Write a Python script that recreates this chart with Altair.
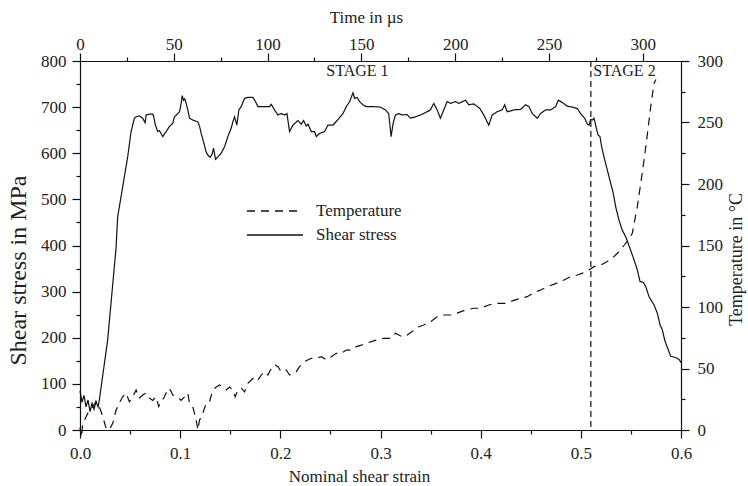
import altair as alt
import pandas as pd

FONT = "Liberation Serif"
TXT = "#222222"
LINE = "#111111"

# Shear stress curve (nominal shear strain, MPa)
stress_strain = [0.000, 0.002, 0.004, 0.006, 0.008, 0.010, 0.012, 0.014, 0.016, 0.018, 0.0193, 0.0276, 0.036,
                 0.0376, 0.0426, 0.0476, 0.051, 0.0543, 0.056, 0.0593, 0.0626, 0.065, 0.066, 0.0693, 0.0726,
                 0.0736, 0.0753, 0.0776, 0.0793, 0.0826, 0.086, 0.0893, 0.0926, 0.0943, 0.0976, 0.0993, 0.101,
                 0.102, 0.1033, 0.1046, 0.106, 0.1076, 0.1093, 0.1126, 0.1176, 0.1193, 0.121, 0.1233, 0.1259,
                 0.1276, 0.1299, 0.1319, 0.1333, 0.1353, 0.1376, 0.1409, 0.1443, 0.1476, 0.1509, 0.1526, 0.1543,
                 0.1566, 0.1586, 0.1609, 0.1643, 0.1676, 0.1726, 0.1752, 0.1776, 0.1859, 0.1892, 0.1909, 0.1942,
                 0.1976, 0.2009, 0.2042, 0.2066, 0.2092, 0.2126, 0.2176, 0.2209, 0.2232, 0.2259, 0.2276, 0.2309,
                 0.2342, 0.2359, 0.2392, 0.2442, 0.2475, 0.2525, 0.2575, 0.2625, 0.2659, 0.2692, 0.2725, 0.2742,
                 0.2765, 0.2792, 0.2825, 0.2859, 0.2932, 0.2999, 0.3049, 0.3082, 0.3106, 0.3126, 0.3149, 0.3182,
                 0.3215, 0.3265, 0.3299, 0.3349, 0.3399, 0.3448, 0.3498, 0.3532, 0.3565, 0.3598, 0.3632, 0.3665,
                 0.3698, 0.3748, 0.3782, 0.3848, 0.3882, 0.3932, 0.3992, 0.4031, 0.4081, 0.4115, 0.4165, 0.4215,
                 0.4239, 0.4265, 0.4332, 0.4398, 0.4448, 0.4482, 0.4515, 0.4565, 0.4598, 0.4648, 0.4698, 0.4748,
                 0.4775, 0.4815, 0.4865, 0.4915, 0.4965, 0.4998, 0.5038, 0.5065, 0.5081, 0.5098, 0.5115, 0.5131,
                 0.5148, 0.5171, 0.5191, 0.5208, 0.5231, 0.5264, 0.5298, 0.5324, 0.5348, 0.5381, 0.5414, 0.5448,
                 0.5497, 0.5531, 0.5564, 0.5591, 0.5624, 0.5648, 0.5681, 0.5731, 0.5764, 0.5791, 0.5814, 0.5837,
                 0.5864, 0.5897, 0.5947, 0.5981, 0.600]
stress_mpa = [85, 60, 75, 50, 65, 40, 58, 45, 62, 50, 65, 195, 395,
              462, 527, 592, 647, 676, 679, 681, 676, 666, 683, 685, 685,
              679, 661, 647, 649, 636, 647, 658, 665, 679, 686, 690, 708,
              725, 715, 718, 708, 694, 676, 672, 668, 659, 643, 625, 603,
              596, 591, 598, 611, 587, 592, 600, 614, 636, 654, 668, 679,
              661, 694, 701, 719, 721, 721, 712, 701, 701, 701, 706, 694,
              683, 686, 683, 686, 647, 661, 671, 663, 671, 659, 663, 647,
              647, 636, 643, 647, 661, 661, 673, 686, 701, 712, 731, 719,
              721, 712, 705, 701, 701, 700, 694, 686, 636, 665, 683, 686,
              683, 684, 676, 679, 683, 688, 694, 708, 694, 676, 694, 712,
              708, 712, 708, 715, 705, 707, 697, 683, 661, 683, 690, 694,
              705, 690, 694, 695, 705, 701, 686, 676, 686, 694, 694, 701,
              715, 710, 702, 700, 697, 686, 676, 663, 661, 673, 672, 676,
              661, 640, 636, 614, 592, 564, 535, 513, 484, 455, 433, 419,
              390, 369, 347, 322, 320, 311, 289, 271, 253, 228, 217, 195,
              179, 160, 157, 153, 146]

# Temperature curve (nominal shear strain, deg C)
temp_strain = [0.0000, 0.0015, 0.0027, 0.0077, 0.0127, 0.016, 0.0193, 0.0227, 0.026, 0.029, 0.0327, 0.0343,
               0.036, 0.0393, 0.0426, 0.046, 0.0493, 0.0526, 0.056, 0.0593, 0.0626, 0.066, 0.0693, 0.0726,
               0.076, 0.0786, 0.081, 0.0843, 0.086, 0.0893, 0.0926, 0.0976, 0.101, 0.1043, 0.1076, 0.1093,
               0.1126, 0.1143, 0.1166, 0.1176, 0.1193, 0.1226, 0.126, 0.1293, 0.1326, 0.136, 0.1393, 0.1426,
               0.146, 0.1493, 0.1526, 0.155, 0.1576, 0.161, 0.1643, 0.1676, 0.171, 0.1743, 0.1776, 0.181,
               0.1843, 0.1876, 0.191, 0.1943, 0.1976, 0.2009, 0.2059, 0.2092, 0.2126, 0.2159, 0.2192, 0.2242,
               0.2309, 0.2359, 0.2409, 0.2459, 0.2509, 0.2559, 0.2609, 0.2659, 0.2709, 0.2759, 0.2809, 0.2859,
               0.2932, 0.3032, 0.3099, 0.3149, 0.3215, 0.3265, 0.3315, 0.3382, 0.3432, 0.3499, 0.3565, 0.3632,
               0.3698, 0.3765, 0.3848, 0.3932, 0.3998, 0.4081, 0.4148, 0.4249, 0.4315, 0.4398, 0.4465, 0.4531,
               0.4598, 0.4665, 0.4748, 0.4831, 0.4898, 0.4965, 0.5032, 0.5082, 0.5131, 0.5198, 0.5264, 0.5331,
               0.5381, 0.543, 0.548, 0.5514, 0.5564, 0.5598, 0.5631, 0.5665, 0.5698, 0.5731, 0.575]
temp_c = [2, -6, 5, 13.5, 19, 23, 19, 11, 1.4, 0, 5.4, 11,
          16, 22, 27, 30, 23, 27, 32.5, 26, 28.5, 30, 26, 24,
          27, 19, 23, 27, 30, 34, 28.5, 27, 24, 27, 30, 22,
          19, 13.5, 5.4, 0, 8, 13.5, 22, 23, 32.5, 35, 36.6, 35,
          32.5, 35, 32.5, 27, 32.5, 34, 31, 38, 40.6, 43, 40.6, 44.7,
          47.4, 44.7, 50, 53, 51.5, 47.4, 48.8, 44.7, 46, 47.4, 51.5, 55.6,
          58.3, 58.3, 59.6, 57, 59.6, 62.3, 62.3, 65, 65, 67.8, 69, 70.5,
          72.5, 74.5, 74.5, 78.6, 75.9, 77, 80, 84, 85.4, 88, 92, 93.5,
          93.5, 95, 97.6, 99, 99, 101.6, 103, 103, 105, 107, 108.4, 111.7,
          113.8, 116.5, 119, 122, 124.7, 126, 128, 130, 132.8, 134, 137, 141,
          145, 150, 155, 160, 181.6, 200.5, 219.5, 241, 263, 282, 285]

time_domain = [0, 320.4]          # time in microseconds spanned by the strain axis
strain_domain = [0, 0.6]
stage_boundary = [0.51]
stage1_label = {"strain": [0.277], "stress": [767], "text": ["STAGE  1"]}
stage2_label = {"strain": [0.5125], "stress": [767], "text": ["STAGE  2"]}

series_names = ["Temperature", "Shear stress"]

W, H = 601, 369

df_s = pd.DataFrame({"strain": stress_strain, "value": stress_mpa, "series": "Shear stress"})
df_t = pd.DataFrame({"strain": temp_strain, "value": temp_c, "series": "Temperature"})

xs = alt.Scale(domain=strain_domain, nice=False, zero=False)

common_axis = dict(labelFont=FONT, labelFontSize=17, labelColor=TXT, titleFont=FONT,
                   titleColor=TXT, titleFontWeight="normal", labelFlush=False,
                   domainColor=LINE, tickColor=LINE, grid=False, domainWidth=1.2, tickWidth=1.2)

dash = alt.StrokeDash(
    "series:N",
    scale=alt.Scale(domain=series_names, range=[[8, 6], [1, 0]]),
    legend=alt.Legend(title=None, orient="none", legendX=184, legendY=139,
                      symbolType="M-2.8,0H2.8", symbolSize=400, symbolStrokeWidth=1.3,
                      symbolStrokeColor=LINE, labelFont=FONT, labelFontSize=17,
                      labelColor=TXT, labelOffset=30, rowPadding=5),
)

stress_line = alt.Chart(df_s).mark_line(color=LINE, strokeWidth=1.2).encode(
    x=alt.X("strain:Q", scale=xs, title="Nominal shear strain",
            axis=alt.Axis(values=[round(i * 0.05, 2) for i in range(13)],
                          labelExpr="abs(datum.value*10 - round(datum.value*10)) < 1e-6 ? format(datum.value, '.1f') : ''",
                          tickSize={"condition": {"test": "abs(datum.value*10 - round(datum.value*10)) < 1e-6", "value": 8}, "value": 4},
                          labelPadding=7, titlePadding=7, titleX=279, titleFontSize=17, **common_axis)),
    y=alt.Y("value:Q", scale=alt.Scale(domain=[0, 800], nice=False), title="Shear stress in MPa",
            axis=alt.Axis(values=list(range(0, 801, 50)),
                          labelExpr="datum.value % 100 === 0 ? datum.label : ''",
                          tickSize={"condition": {"test": "datum.value % 100 === 0", "value": 8}, "value": 4},
                          labelPadding=6, titlePadding=10, titleY=209, titleFontSize=24, **common_axis)),
    strokeDash=dash,
)

temp_line = alt.Chart(df_t).mark_line(color=LINE, strokeWidth=1.2).encode(
    x=alt.X("strain:Q", scale=xs, axis=None),
    y=alt.Y("value:Q", scale=alt.Scale(domain=[0, 300], nice=False), title="Temperature in °C",
            axis=alt.Axis(orient="right", values=list(range(0, 301, 25)),
                          labelExpr="datum.value % 50 === 0 ? datum.label : ''",
                          tickSize={"condition": {"test": "datum.value % 50 === 0", "value": 8}, "value": 4},
                          labelPadding=8, titlePadding=5, titleAngle=270, titleBaseline="top",
                          titleY=198, titleFontSize=18, **common_axis)),
    strokeDash=dash,
)

stage_rule = alt.Chart(pd.DataFrame({"strain": stage_boundary})).mark_rule(
    color=LINE, strokeDash=[6, 4], strokeWidth=1.2
).encode(x=alt.X("strain:Q", scale=xs, axis=None))

stage1 = alt.Chart(pd.DataFrame(stage1_label)).mark_text(
    font=FONT, fontSize=16, color=TXT, align="center", baseline="alphabetic"
).encode(x=alt.X("strain:Q", scale=xs, axis=None),
         y=alt.Y("stress:Q", scale=alt.Scale(domain=[0, 800], nice=False), axis=None),
         text="text:N")

stage2 = alt.Chart(pd.DataFrame(stage2_label)).mark_text(
    font=FONT, fontSize=16, color=TXT, align="left", baseline="alphabetic"
).encode(x=alt.X("strain:Q", scale=xs, axis=None),
         y=alt.Y("stress:Q", scale=alt.Scale(domain=[0, 800], nice=False), axis=None),
         text="text:N")

time_axis = alt.Chart(pd.DataFrame({"time": time_domain})).mark_point(opacity=0).encode(
    x=alt.X("time:Q", scale=alt.Scale(domain=time_domain, nice=False, zero=False), title="Time in µs",
            axis=alt.Axis(orient="top", values=list(range(0, 301, 25)),
                          labelExpr="datum.value % 50 === 0 ? datum.label : ''",
                          tickSize={"condition": {"test": "datum.value % 50 === 0", "value": 8}, "value": 4},
                          labelPadding=0, titlePadding=9, titleX=286, titleFontSize=17, **common_axis)),
    y=alt.value(0),
)

chart = alt.layer(stress_line, temp_line, stage_rule, stage1, stage2, time_axis).resolve_scale(
    x="independent", y="independent"
).properties(
    width=W, height=H,
    autosize=alt.AutoSizeParams(type="none"),
    padding={"left": 80, "top": 61, "right": 67, "bottom": 56},
    background="white",
).configure_view(stroke=None)

chart.save("out.html", embed_options={"renderer": "svg", "actions": False})
